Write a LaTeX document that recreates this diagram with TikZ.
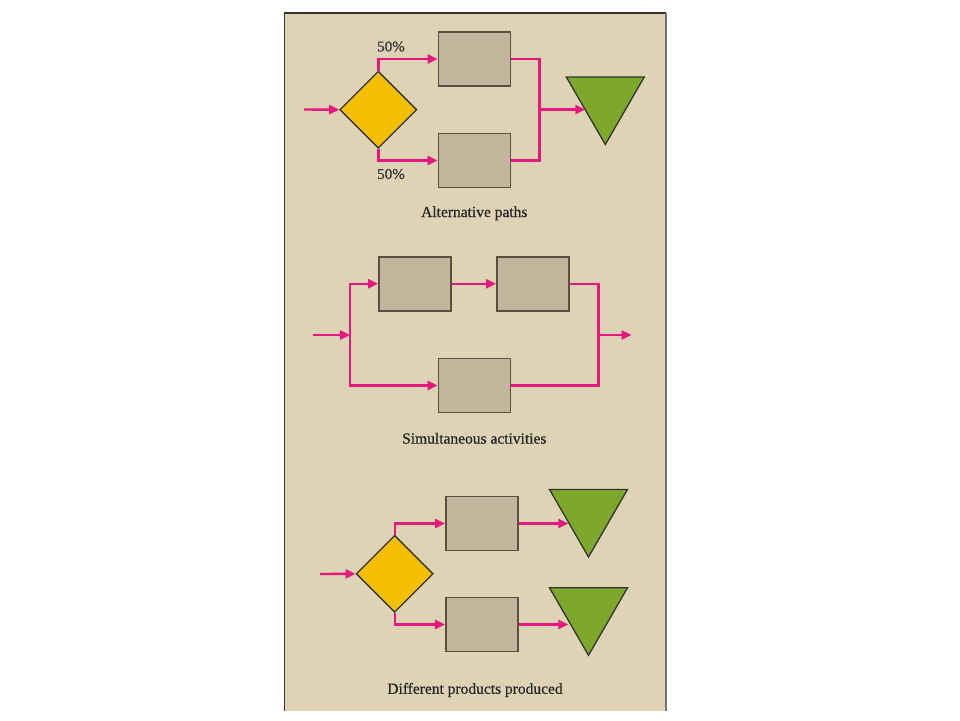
\documentclass[tikz,border=0pt]{standalone}
\usepackage{fontspec}
\setmainfont{Liberation Serif}[BoldFont=Liberation Serif,BoldFeatures={FakeBold=0.6}]
\usetikzlibrary{shapes.geometric,arrows.meta,calc}
\definecolor{panel}{HTML}{DED3B5}
\definecolor{boxfill}{HTML}{C4B59D}
\definecolor{boxline}{HTML}{5A5040}
\definecolor{dia}{HTML}{F4BF00}
\definecolor{grn}{HTML}{7DA82B}
\definecolor{mag}{HTML}{E6177F}
\tikzset{
  opbox/.style={draw=boxline,fill=boxfill,line width=1.8pt,minimum width=72pt,minimum height=54pt,inner sep=0pt},
  decision/.style={diamond,draw=black!80,fill=dia,line width=1.3pt,minimum width=77pt,minimum height=77pt,inner sep=0pt},
  store/.style={regular polygon,regular polygon sides=3,shape border rotate=180,draw=black!80,fill=grn,line width=1.3pt,minimum size=90pt,inner sep=0pt},
  flow/.style={draw=mag,line width=2.4pt},
  arr/.style={flow,-{Triangle[length=10pt,width=9pt]}},
  lbl/.style={font=\fontsize{15}{17}\selectfont\bfseries,text=black!80},
  captext/.style={font=\fontsize{15.5}{18}\selectfont\bfseries,text=black!85}
}
\begin{document}
\begin{tikzpicture}[x=1pt,y=-1pt]
\useasboundingbox (0,0) rectangle (960,720);
\fill[white] (0,0) rectangle (960,720);
\fill[panel] (284.5,13) rectangle (666,711);
\draw[black!80,line width=1.5pt] (284.5,711) -- (284.5,13) -- (666,13);
\draw[black!55,line width=1.5pt] (666,13) -- (666,711);

% ---- Alternative paths ----
\coordinate (in1) at (304,109.5);
\node[decision] (d1) at (378.3,109.7) {};
\node[opbox] (b1) at (474.5,59) {};
\node[opbox] (b2) at (474.5,160.5) {};
\node[store] (t1) at (605.3,99.5) {};
\coordinate (t1in) at ($(t1.corner 3)!0.5!(t1.corner 1)$);
\coordinate (j1) at (539.3,109.5);
\draw[arr] (in1) -- (d1.west);
\draw[arr] (d1.north) |- (b1.west);
\draw[arr] (d1.south) |- (b2.west);
\draw[flow] (b1.east) -| (j1) |- (b2.east);
\draw[arr] (j1) -- (j1 -| t1in);
\node[lbl] (p1) at (391,46.5) {50\%};
\node[lbl] (p2) at (391,174) {50\%};
\node[captext] (cap1) at (474.3,213.3) {Alternative paths};

% ---- Simultaneous activities ----
\coordinate (in2) at (313.3,335);
\coordinate (j2a) at (350,335);
\coordinate (j2b) at (598.3,335);
\coordinate (out2) at (631.7,335);
\node[opbox] (c1) at (415,283.8) {};
\node[opbox] (c2) at (533,283.8) {};
\node[opbox] (c3) at (474.5,385.5) {};
\draw[arr] (in2) -- (j2a);
\draw[arr] (j2a) |- (c1.west);
\draw[arr] (j2a) |- (c3.west);
\draw[arr] (c1) -- (c2);
\draw[flow] (c2.east) -| (j2b);
\draw[flow] (c3.east) -| (j2b);
\draw[arr] (j2b) -- (out2);
\node[captext] (cap2) at (474.3,438.3) {Simultaneous activities};

% ---- Different products produced ----
\coordinate (in3) at (320,574);
\node[decision] (d3) at (394.7,573.8) {};
\node[opbox] (e1) at (482,523.5) {};
\node[opbox] (e2) at (482,624.5) {};
\node[store] (s1) at (588.5,512) {};
\node[store] (s2) at (588.5,610.3) {};
\coordinate (s1in) at ($(s1.corner 3)!0.5!(s1.corner 1)$);
\coordinate (s2in) at ($(s2.corner 3)!0.5!(s2.corner 1)$);
\draw[arr] (in3) -- (d3.west);
\draw[arr] (d3.north) |- (e1.west);
\draw[arr] (d3.south) |- (e2.west);
\draw[arr] (e1.east) -- (e1.east -| s1in);
\draw[arr] (e2.east) -- (e2.east -| s2in);
\node[captext] (cap3) at (475,690) {Different products produced};
\end{tikzpicture}
\end{document}
